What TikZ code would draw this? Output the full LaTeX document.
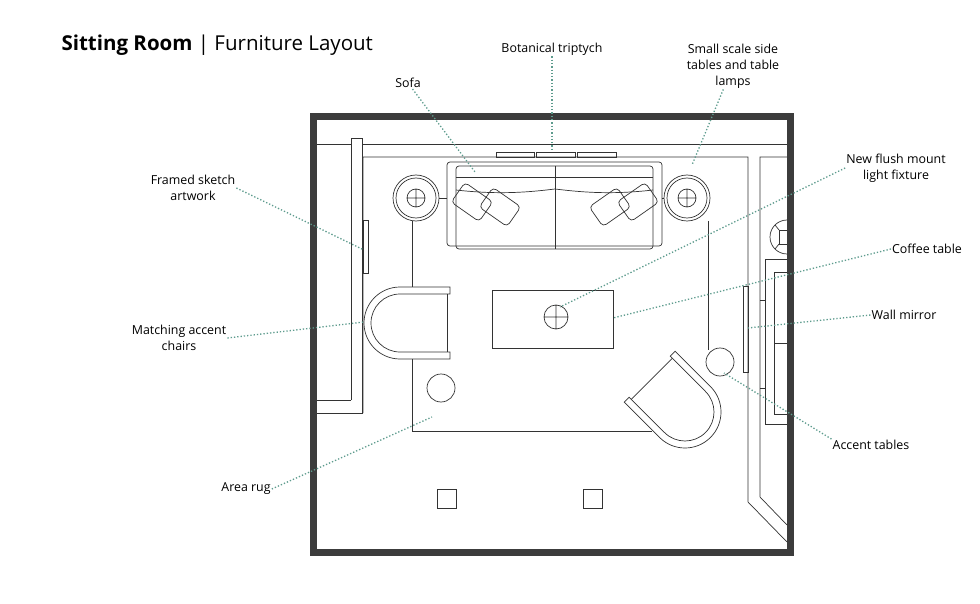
\documentclass[tikz,border=0pt]{standalone}
\usepackage{fontspec}
\setmainfont{Open Sans}
\definecolor{leadc}{HTML}{5E9C8E}
\definecolor{wallc}{HTML}{3C3C3C}
\tikzset{
  lbl/.style={font=\fontsize{12.4}{16}\selectfont, align=center, inner sep=1pt},
  leader/.style={leadc, line width=1.3pt, dotted},
  plan/.style={line width=0.7pt, black!80},
  chairshape/.pic={
    \draw[plan] (50,-36) -- (0,-36) arc (-90:-270:36) -- (50,36) -- (50,29) -- (0,29) arc (90:270:29) -- (0,-29) -- (50,-29) -- cycle;
    \draw[plan] (47,-29) -- (47,29);
  },
  lamp/.pic={
    \draw[plan] (0,0) circle (23) (0,0) circle (20);
    \draw[plan] (0,0) circle (9) (-9,0) -- (9,0) (0,-9) -- (0,9);
  },
  pillow/.pic={
    \draw[plan, rounded corners=4pt] (-17,-12) rectangle (17,12);
  }
}
\begin{document}
\begin{tikzpicture}[x=1pt, y=-1pt]
  \useasboundingbox (0,0) rectangle (980,604);
  \fill[white] (0,0) rectangle (980,604);

  % title
  \node[anchor=west, font=\fontsize{20.5}{24}\selectfont] (title) at (58,45)
    {\textbf{Sitting Room} | Furniture Layout};

  % room walls
  \draw[wallc, line width=7pt] (313.5,116.5) rectangle (790.5,552.5);
  \draw[plan] (317,144) -- (351,144) (362,144) -- (787,144);
  \draw[plan] (351,400) -- (351,138) -- (362,138) -- (362,413) -- (317,413);
  \draw[plan] (317,400) -- (351,400);
  \draw[plan] (363,413) -- (363,157) -- (748,157) -- (748,502) -- (787,542);
  \draw[plan] (787,157) -- (760,157) -- (760,497) -- (787,525);
  \draw[plan] (363,220) rectangle (368,273);

  % right wall niche and mirror
  \draw[plan] (787,220) arc (-90:-270:17);
  \draw[plan] (787,230) -- (779,230) -- (779,244) -- (787,244);
  \draw[plan] (775,225) -- (779,230) (775,249) -- (779,244);
  \draw[plan] (787,259) -- (765,259) -- (765,424) -- (787,424);
  \draw[plan] (787,272) -- (774,272) -- (774,414) -- (787,414);
  \draw[plan] (774,343) -- (787,343) (760,300) -- (765,300) (760,388) -- (765,388);
  \draw[plan] (743,286) rectangle (748,372);

  % rug
  \draw[plan] (412,221) -- (412,287) (412,359) -- (412,431) -- (652,431);
  \draw[plan] (708,221) -- (708,350);

  % sofa and triptych
  \draw[plan] (496,152) rectangle (534,157) (536,152) rectangle (575,157) (577,152) rectangle (616,157);
  \draw[plan, rounded corners=3pt] (447,162) rectangle (662,246);
  \draw[plan, rounded corners=3pt] (456,166) rectangle (653,249);
  \draw[plan] (456,177) -- (653,177) (555,166) -- (555,249);
  \draw[plan] (456,190) .. controls (500,195) and (530,192) .. (555,189) .. controls (580,192) and (610,195) .. (653,190);
  \pic[rotate=-35] at (472,202) {pillow};
  \pic[rotate=-35] at (500,207) {pillow};
  \pic[rotate=35] at (610,207) {pillow};
  \pic[rotate=35] at (638,202) {pillow};

  % side tables with lamps
  \pic at (416,198) {lamp};
  \pic at (687,198) {lamp};
  \draw[plan] (439,198) -- (447,198) (662,198) -- (664,198);

  % coffee table and light fixture
  \draw[plan] (492,290) rectangle (613,348);
  \draw[plan] (556,317) circle (12) (544,317) -- (568,317) (556,305) -- (556,329);

  % chairs and accent tables
  \fill[white] (628,378) -- (672,334) -- (740,400) -- (696,444) -- cycle;
  \pic at (400,323) {chairshape};
  \pic[rotate=135] at (685,412) {chairshape};
  \draw[plan] (441,388) circle (14);
  \draw[plan] (720,362) circle (14);

  % floor vents
  \draw[plan] (437,489) rectangle (456,508) (583,489) rectangle (602,508);

  % labels
  \node[lbl] (sofa) at (408,83) {Sofa};
  \node[lbl] (trip) at (552,49) {Botanical triptych};
  \node[lbl] (side) at (733,66) {Small scale side\\tables and table\\lamps};
  \node[lbl] (light) at (896,168) {New flush mount\\light fixture};
  \node[lbl] (coffee) at (927,249) {Coffee table};
  \node[lbl] (mirror) at (904,315) {Wall mirror};
  \node[lbl] (accent) at (871,445) {Accent tables};
  \node[lbl] (sketch) at (193,188) {Framed sketch\\artwork};
  \node[lbl] (chairs) at (179,338) {Matching accent\\chairs};
  \node[lbl] (rug) at (246,489) {Area rug};

  \coordinate (sofaP) at (475,172);
  \coordinate (tripP) at (552,152);
  \coordinate (sideP) at (692,165);
  \coordinate (lightP) at (560,307);
  \coordinate (coffeeP) at (613,318);
  \coordinate (mirrorP) at (748,328);
  \coordinate (accentP) at (724,373);
  \coordinate (sketchP) at (364,250);
  \coordinate (chairsP) at (364,322);
  \coordinate (rugP) at (432,417);

  \draw[leader] (sofa) -- (sofaP);
  \draw[leader] (trip) -- (tripP);
  \draw[leader] (side) -- (sideP);
  \draw[leader] (light.west) -- (lightP);
  \draw[leader] (coffee.west) -- (coffeeP);
  \draw[leader] (mirror.west) -- (mirrorP);
  \draw[leader] (accent.north west) -- (accentP);
  \draw[leader] (sketch.east) -- (sketchP);
  \draw[leader] (chairs.east) -- (chairsP);
  \draw[leader] (rug.east) -- (rugP);
\end{tikzpicture}
\end{document}
